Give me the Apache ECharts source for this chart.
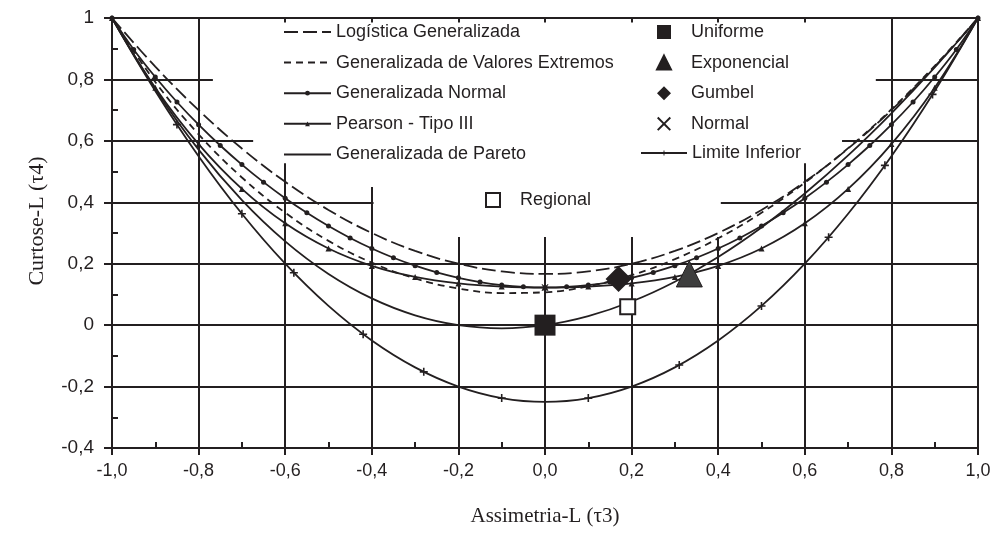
<!DOCTYPE html>
<html>
<head>
<meta charset="utf-8">
<title>Diagrama de razões-L</title>
<script src="https://cdn.jsdelivr.net/npm/echarts@6/dist/echarts.min.js"></script>
<style>
  html, body { margin: 0; padding: 0; background: #fff; }
  #chart { width: 999px; height: 541px; }
</style>
</head>
<body>
<div id="chart"></div>
<script>
var tau3 = [-1, -0.9, -0.8, -0.7, -0.6, -0.5, -0.4, -0.3, -0.2, -0.1, 0,
            0.1, 0.2, 0.3, 0.4, 0.5, 0.6, 0.7, 0.8, 0.9, 1];
var gloTau4 = [1, 0.8417, 0.7, 0.575, 0.4667, 0.375, 0.3, 0.2417, 0.2, 0.175, 0.1667,
               0.175, 0.2, 0.2417, 0.3, 0.375, 0.4667, 0.575, 0.7, 0.8417, 1];
var gevTau4 = [1, 0.7916, 0.6214, 0.4808, 0.3661, 0.2743, 0.2034, 0.1521, 0.1193, 0.1045, 0.107,
               0.1265, 0.1626, 0.2148, 0.2827, 0.3658, 0.4638, 0.5762, 0.7029, 0.8443, 1];
var pe3Tau4 = [1, 0.7729, 0.5894, 0.4435, 0.3314, 0.2494, 0.1929, 0.1569, 0.1359, 0.1255, 0.1224,
               0.1255, 0.1359, 0.1569, 0.1929, 0.2494, 0.3314, 0.4435, 0.5894, 0.7729, 1];
var gpaTau4 = [1, 0.7683, 0.5714, 0.407, 0.2727, 0.1667, 0.087, 0.0319, 0, -0.0102, 0,
               0.0294, 0.0769, 0.1415, 0.2222, 0.3182, 0.4286, 0.5526, 0.6897, 0.839, 1];
var lbTau4 = [1, 0.7625, 0.55, 0.3625, 0.2, 0.0625, -0.05, -0.1375, -0.2, -0.2375, -0.25,
              -0.2375, -0.2, -0.1375, -0.05, 0.0625, 0.2, 0.3625, 0.55, 0.7625, 1];

var gnoTau3 = [-1, -0.95, -0.9, -0.85, -0.8, -0.75, -0.7, -0.65, -0.6, -0.55, -0.5,
               -0.45, -0.4, -0.35, -0.3, -0.25, -0.2, -0.15, -0.1, -0.05, 0,
               0.05, 0.1, 0.15, 0.2, 0.25, 0.3, 0.35, 0.4, 0.45, 0.5,
               0.55, 0.6, 0.65, 0.7, 0.75, 0.8, 0.85, 0.9, 0.95, 1];
var gnoTau4 = [1, 0.8976, 0.8078, 0.7265, 0.6526, 0.5848, 0.5227, 0.4656, 0.4133, 0.3657, 0.3226,
               0.2839, 0.2495, 0.2194, 0.1935, 0.1717, 0.154, 0.1403, 0.1306, 0.1248, 0.1228,
               0.1248, 0.1306, 0.1403, 0.154, 0.1717, 0.1935, 0.2194, 0.2495, 0.2839, 0.3226,
               0.3657, 0.4133, 0.4656, 0.5227, 0.5848, 0.6526, 0.7265, 0.8078, 0.8976, 1];

// marcas "+" ao longo do limite inferior
var lbMarkTau3 = [-0.85, -0.7, -0.58, -0.42, -0.28, -0.1, 0.1, 0.31, 0.5, 0.655, 0.785, 0.895];
var lbMarkTau4 = [0.653, 0.3625, 0.1705, -0.0295, -0.152, -0.2375, -0.2375, -0.1299, 0.0625, 0.2863, 0.5203, 0.7513];

// distribuições de dois parâmetros e região
var uniformePt = [0, 0];
var exponencialPt = [0.3333, 0.1667];
var gumbelPt = [0.1699, 0.1504];
var normalPt = [0, 0.1226];
var regionalPt = [0.191, 0.06];

function pairs(xs, ys) {
  return xs.map(function (x, i) { return [x, ys[i]]; });
}

// área branca atrás da legenda (esconde as linhas de grade)
var maskPoly = [
  [-0.767, 0.985], [0.764, 0.985], [0.764, 0.7], [0.686, 0.7], [0.686, 0.527],
  [0.406, 0.527], [0.406, 0.287], [-0.396, 0.287], [-0.396, 0.45], [-0.55, 0.45],
  [-0.55, 0.527], [-0.674, 0.527], [-0.674, 0.7], [-0.767, 0.7]
];

var ink = '#231f20';
var sans = '"Liberation Sans", Arial, sans-serif';
var serif = '"Liberation Serif", "Times New Roman", serif';

var xPath = 'path://M1,0L5,4L9,0L10,1L6,5L10,9L9,10L5,6L1,10L0,9L4,5L0,1Z';
var plusPath = 'path://M4,0H6V4H10V6H6V10H4V6H0V4H4Z';

var myChart = echarts.init(document.getElementById('chart'));

function lineSeries(name, data, extra) {
  var s = {
    name: name,
    type: 'line',
    data: data,
    smooth: 0.4,
    symbol: 'none',
    z: 3,
    lineStyle: { color: ink, width: 1.8 },
    itemStyle: { color: ink },
    emphasis: { disabled: true }
  };
  for (var k in extra) { s[k] = extra[k]; }
  return s;
}

function pointSeries(name, data, symbol, size, itemStyle) {
  itemStyle.opacity = 1;
  return {
    name: name,
    type: 'scatter',
    data: data,
    symbol: symbol,
    symbolSize: size,
    z: 5,
    itemStyle: itemStyle,
    emphasis: { disabled: true }
  };
}

var legendText = { fontFamily: sans, fontSize: 18, color: ink };
var noMark = { color: 'rgba(0,0,0,0)', borderWidth: 0 };
var iconText = { fontFamily: sans, fontSize: 18, color: ink, padding: [0, 0, 0, 15] };

var option = {
  animation: false,
  backgroundColor: '#fff',
  grid: { left: 112, right: 21, top: 18, bottom: 93 },
  xAxis: [
    {
      type: 'value', min: -1, max: 1, interval: 0.2,
      name: 'Assimetria-L (\u03c43)', nameLocation: 'middle', nameGap: 58,
      nameTextStyle: { fontFamily: serif, fontSize: 21, color: ink },
      axisLine: { onZero: false, lineStyle: { color: ink, width: 2 } },
      axisTick: { length: 7, lineStyle: { color: ink, width: 2 } },
      axisLabel: {
        margin: 14, fontFamily: sans, fontSize: 18, color: ink,
        formatter: function (v) { return v.toFixed(1).replace('.', ','); }
      },
      splitLine: { show: true, lineStyle: { color: ink, width: 2 } }
    },
    {
      type: 'value', min: -1, max: 1, interval: 0.1, position: 'bottom',
      axisLine: { show: false, onZero: false },
      axisTick: { inside: true, length: 6, lineStyle: { color: ink, width: 2 } },
      axisLabel: { show: false },
      splitLine: { show: false }
    }
  ],
  yAxis: [
    {
      type: 'value', min: -0.4, max: 1, interval: 0.2,
      name: 'Curtose-L (\u03c44)', nameLocation: 'middle', nameGap: 64, nameRotate: 90,
      nameTextStyle: { fontFamily: serif, fontSize: 22, color: ink, padding: [0, 0, 0, 24] },
      axisLine: { onZero: false, lineStyle: { color: ink, width: 2 } },
      axisTick: { length: 8, lineStyle: { color: ink, width: 2 } },
      axisLabel: {
        margin: 18, fontFamily: sans, fontSize: 19, color: ink,
        formatter: function (v) { return String(Math.round(v * 10) / 10).replace('.', ','); }
      },
      splitLine: { show: true, lineStyle: { color: ink, width: 2 } }
    },
    {
      type: 'value', min: -0.4, max: 1, interval: 0.1, position: 'left',
      axisLine: { show: false, onZero: false },
      axisTick: { inside: true, length: 6, lineStyle: { color: ink, width: 2 } },
      axisLabel: { show: false },
      splitLine: { show: false }
    }
  ],
  legend: [
    {
      orient: 'vertical', left: 283, top: 23, padding: 0,
      itemWidth: 47, itemHeight: 6, itemGap: 12.6,
      textStyle: legendText,
      data: [
        { name: 'Logística Generalizada', itemStyle: noMark },
        { name: 'Generalizada de Valores Extremos', itemStyle: noMark },
        'Generalizada Normal',
        'Pearson - Tipo III',
        { name: 'Generalizada de Pareto', itemStyle: noMark }
      ]
    },
    {
      orient: 'vertical', left: 656, top: 23, padding: 0,
      itemWidth: 14, itemHeight: 14, itemGap: 12.6,
      textStyle: iconText,
      data: ['Uniforme', { name: 'Exponencial', itemStyle: { color: ink } }, 'Gumbel', 'Normal']
    },
    {
      orient: 'vertical', left: 640, top: 144, padding: 0,
      itemWidth: 46, itemHeight: 6,
      textStyle: legendText,
      data: ['Limite Inferior']
    },
    {
      orient: 'vertical', left: 485, top: 191, padding: 0,
      itemWidth: 14, itemHeight: 14,
      textStyle: iconText,
      data: ['Regional']
    }
  ],
  series: [
    {
      type: 'custom',
      silent: true,
      z: 1,
      data: [[0, 0]],
      renderItem: function (params, api) {
        return {
          type: 'polygon',
          shape: { points: maskPoly.map(function (p) { return api.coord(p); }) },
          style: { fill: '#fff' }
        };
      }
    },
    lineSeries('Logística Generalizada', pairs(tau3, gloTau4), {
      lineStyle: { color: ink, width: 1.8, type: [14, 5] }
    }),
    lineSeries('Generalizada de Valores Extremos', pairs(tau3, gevTau4), {
      lineStyle: { color: ink, width: 1.8, type: [7, 5] }
    }),
    lineSeries('Generalizada Normal', pairs(gnoTau3, gnoTau4), {
      symbol: 'circle', symbolSize: 5, showSymbol: true
    }),
    lineSeries('Pearson - Tipo III', pairs(tau3, pe3Tau4), {
      symbol: 'triangle', symbolSize: 6, showSymbol: true
    }),
    lineSeries('Generalizada de Pareto', pairs(tau3, gpaTau4), {}),
    lineSeries('Limite Inferior', pairs(tau3, lbTau4), {
      symbol: plusPath, symbolSize: 8, showSymbol: false
    }),
    pointSeries('Limite Inferior (marcas)', pairs(lbMarkTau3, lbMarkTau4), plusPath, 8, { color: ink }),
    pointSeries('Uniforme', [uniformePt], 'rect', 21, { color: ink }),
    pointSeries('Exponencial', [exponencialPt], 'triangle', 26, { color: '#3d3d3d', borderColor: ink, borderWidth: 1 }),
    pointSeries('Gumbel', [gumbelPt], 'diamond', 26, { color: ink }),
    pointSeries('Normal', [normalPt], xPath, 7, { color: ink }),
    pointSeries('Regional', [regionalPt], 'rect', 15, { color: '#fff', borderColor: ink, borderWidth: 2 })
  ]
};

myChart.setOption(option);
</script>
</body>
</html>
